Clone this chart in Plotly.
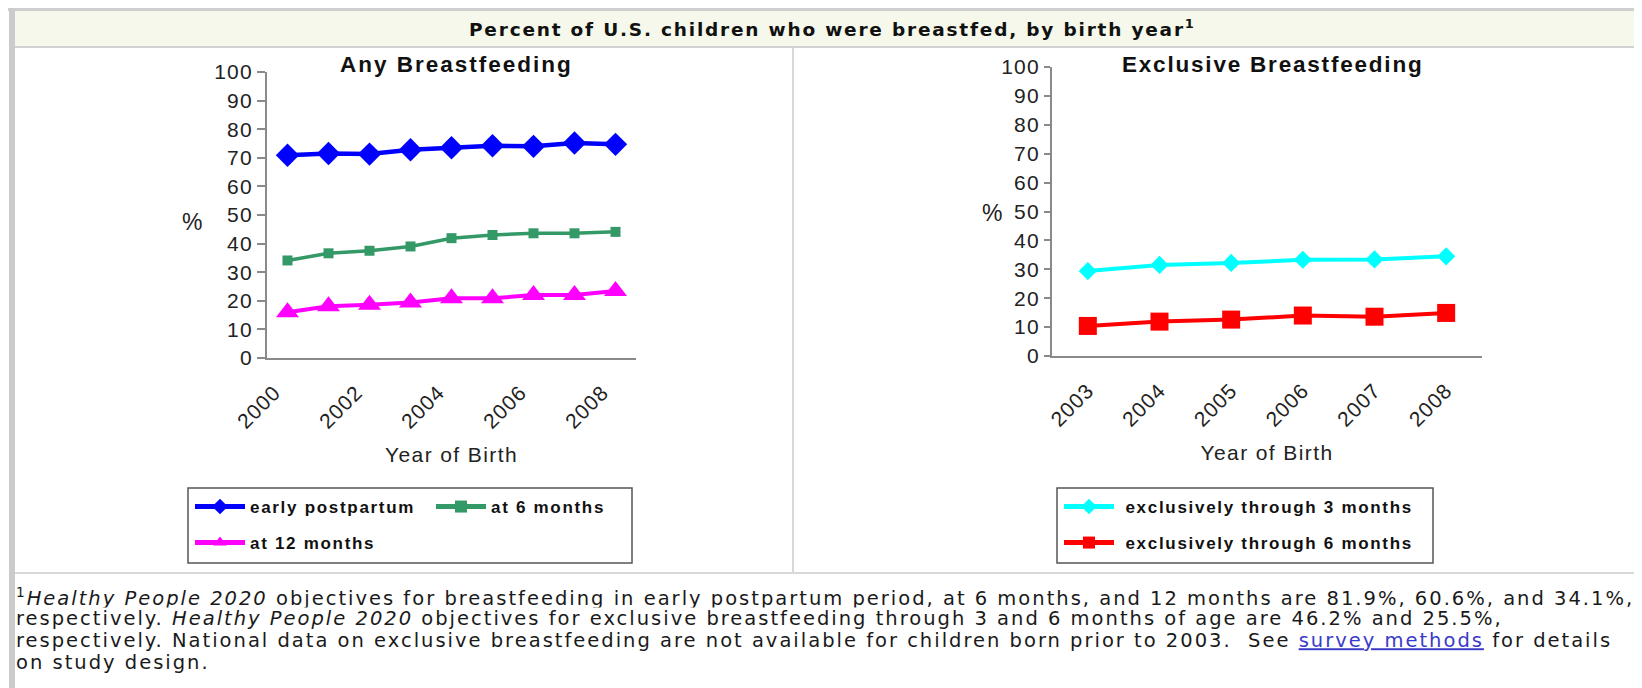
import plotly.graph_objects as go

W, H = 1642, 688
OFF = 8  # the page body margin that shifts the figure inside the window

# ---------------- data ----------------
years_any = [2000, 2001, 2002, 2003, 2004, 2005, 2006, 2007, 2008]
early_postpartum = [70.9, 71.5, 71.3, 72.8, 73.5, 74.2, 74.0, 75.2, 74.7]
at_6_months = [34.1, 36.6, 37.5, 39.0, 41.9, 43.0, 43.6, 43.6, 44.1]
at_12_months = [16.0, 18.1, 18.6, 19.4, 20.9, 20.9, 22.0, 22.0, 23.4]

years_excl = [2003, 2004, 2005, 2006, 2007, 2008]
excl_3_months = [29.4, 31.5, 32.2, 33.3, 33.4, 34.5]
excl_6_months = [10.4, 11.9, 12.6, 14.0, 13.6, 14.9]

any_ticks = [2000, 2002, 2004, 2006, 2008]
excl_ticks = [2003, 2004, 2005, 2006, 2007, 2008]
y_ticks = list(range(0, 101, 10))

series_names = ["early postpartum", "at 6 months", "at 12 months",
                "exclusively through 3 months", "exclusively through 6 months"]

main_title = "Percent of U.S. children who were breastfed, by birth year"
left_title = "Any Breastfeeding"
right_title = "Exclusive Breastfeeding"
x_title = "Year of Birth"
footnote_lines = [
    "<sup>1</sup><i>Healthy People 2020</i> objectives for breastfeeding in early postpartum period, at 6 months, and 12 months are 81.9%, 60.6%, and 34.1%,",
    "respectively. <i>Healthy People 2020</i> objectives for exclusive breastfeeding through 3 and 6 months of age are 46.2% and 25.5%,",
    "respectively. National data on exclusive breastfeeding are not available for children born prior to 2003.  See "
    "<span style=\"color:#3a3ac8;text-decoration:underline\">survey methods</span> for details",
    "on study design.",
]


def px(x):
    return (x - OFF) / W


def py(y):
    return 1 - (y - OFF) / H


def spaced(text, ls):
    return f'<span style="letter-spacing:{ls}px">{text}</span>'


CHART_FONT = "Liberation Sans, Arial, sans-serif"
PAGE_FONT = "DejaVu Sans, Verdana, sans-serif"
LEG_LS = 1.7
NBSP = "\u00a0"

fig = go.Figure()

fig.add_trace(go.Scatter(x=years_any, y=early_postpartum, name=spaced(series_names[0], LEG_LS),
                         mode="lines+markers", line=dict(color="#0000FF", width=4.5),
                         marker=dict(symbol="diamond", size=18, color="#0000FF"),
                         xaxis="x", yaxis="y", legend="legend"))
fig.add_trace(go.Scatter(x=years_any, y=at_6_months, name=spaced(series_names[1], LEG_LS),
                         mode="lines+markers", line=dict(color="#339966", width=3.5),
                         marker=dict(symbol="square", size=10, color="#339966"),
                         xaxis="x", yaxis="y", legend="legend"))
fig.add_trace(go.Scatter(x=years_any, y=at_12_months, name=spaced(series_names[2], LEG_LS),
                         mode="lines+markers", line=dict(color="#FF00FF", width=4),
                         marker=dict(symbol="triangle-up", size=20, color="#FF00FF"),
                         xaxis="x", yaxis="y", legend="legend2"))
fig.add_trace(go.Scatter(x=years_excl, y=excl_3_months,
                         name=spaced(NBSP + series_names[3], LEG_LS),
                         mode="lines+markers", line=dict(color="#00FFFF", width=4),
                         marker=dict(symbol="diamond", size=14, color="#00FFFF"),
                         xaxis="x2", yaxis="y2", legend="legend3"))
fig.add_trace(go.Scatter(x=years_excl, y=excl_6_months,
                         name=spaced(NBSP + series_names[4], LEG_LS),
                         mode="lines+markers", line=dict(color="#FF0000", width=4),
                         marker=dict(symbol="square", size=18, color="#FF0000"),
                         xaxis="x2", yaxis="y2", legend="legend4"))

tick_font = dict(family=CHART_FONT, size=21, color="#222222")
axis_common = dict(showgrid=False, zeroline=False, showline=True, linecolor="#8a8a8a",
                   linewidth=2, tickfont=tick_font, fixedrange=True, automargin=False)
xtitle_font = dict(family=CHART_FONT, size=21, color="#222222")

fig.update_layout(
    template="none",
    width=W, height=H,
    margin=dict(l=0, r=0, t=0, b=0, pad=0, autoexpand=False),
    paper_bgcolor="white", plot_bgcolor="rgba(0,0,0,0)",
    showlegend=True,
    xaxis=dict(domain=[px(267), px(636)], range=[1999.5, 2008.5], anchor="y",
               tickmode="array", tickvals=any_ticks,
               ticktext=[spaced(str(v), 1) for v in any_ticks], tickangle=-45, ticks="",
               ticklabelstandoff=12, ticklabelshift=-13,
               title=dict(text=spaced(x_title, 1.4), standoff=15, font=xtitle_font),
               **axis_common),
    yaxis=dict(domain=[py(358), py(72)], range=[0, 100], anchor="x",
               tickmode="array", tickvals=y_ticks,
               ticktext=[spaced(str(v), 1.2) for v in y_ticks],
               ticks="outside", ticklen=8,
               tickcolor="#8a8a8a", tickwidth=2, ticklabelstandoff=0, **axis_common),
    xaxis2=dict(domain=[px(1052), px(1482)], range=[2002.5, 2008.5], anchor="y2",
                tickmode="array", tickvals=excl_ticks,
                ticktext=[spaced(str(v), 1) for v in excl_ticks], tickangle=-45, ticks="",
                ticklabelstandoff=12, ticklabelshift=0,
                title=dict(text=spaced(x_title, 1.4), standoff=15, font=xtitle_font),
                **axis_common),
    yaxis2=dict(domain=[py(356), py(67)], range=[0, 100], anchor="x2",
                tickmode="array", tickvals=y_ticks,
                ticktext=[spaced(str(v), 1.2) for v in y_ticks],
                ticks="outside", ticklen=6,
                tickcolor="#8a8a8a", tickwidth=2, ticklabelstandoff=0, **axis_common),
)

legend_common = dict(orientation="h", xanchor="left", yanchor="middle",
                     bgcolor="rgba(0,0,0,0)", borderwidth=0, itemwidth=50,
                     itemsizing="constant", itemclick=False, itemdoubleclick=False,
                     font=dict(family=CHART_FONT, size=17, color="#111111", weight="bold"))
fig.update_layout(
    legend=dict(x=px(190), y=py(507), entrywidth=176, **legend_common),
    legend2=dict(x=px(190), y=py(543), **legend_common),
    legend3=dict(x=px(1059), y=py(507), **legend_common),
    legend4=dict(x=px(1059), y=py(543), **legend_common),
)

shapes = [
    # page frame
    dict(type="rect", xref="paper", yref="paper", x0=px(OFF), x1=px(W + OFF), y0=py(11), y1=py(OFF),
         fillcolor="#cfcfcf", line=dict(width=0), layer="below"),
    dict(type="rect", xref="paper", yref="paper", x0=px(9), x1=px(W + OFF), y0=py(46), y1=py(11),
         fillcolor="#f5f8ea", line=dict(width=0), layer="below"),
    dict(type="rect", xref="paper", yref="paper", x0=px(9), x1=px(W + OFF), y0=py(48), y1=py(46),
         fillcolor="#d2d2d2", line=dict(width=0), layer="below"),
    dict(type="rect", xref="paper", yref="paper", x0=px(9), x1=px(15), y0=py(H + OFF), y1=py(OFF),
         fillcolor="#cbcbcb", line=dict(width=0), layer="below"),
    dict(type="rect", xref="paper", yref="paper", x0=px(792), x1=px(794), y0=py(574), y1=py(48),
         fillcolor="#d8d8d8", line=dict(width=0), layer="below"),
    dict(type="rect", xref="paper", yref="paper", x0=px(15), x1=px(W + OFF), y0=py(574), y1=py(572),
         fillcolor="#d8d8d8", line=dict(width=0), layer="below"),
    # legend boxes
    dict(type="rect", xref="paper", yref="paper", x0=px(188), x1=px(632), y0=py(563), y1=py(488),
         fillcolor="rgba(0,0,0,0)", line=dict(color="#555555", width=1.5), layer="below"),
    dict(type="rect", xref="paper", yref="paper", x0=px(1057), x1=px(1433), y0=py(563), y1=py(488),
         fillcolor="rgba(0,0,0,0)", line=dict(color="#555555", width=1.5), layer="below"),
]
fig.update_layout(shapes=shapes)

annotations = [
    dict(text=spaced(f"<b>{main_title}<sup>1</sup></b>", 1.8), x=px(832), y=py(28),
         xref="paper", yref="paper", xanchor="center", yanchor="middle", showarrow=False,
         font=dict(family=PAGE_FONT, size=18.5, color="#111111")),
    dict(text=spaced(f"<b>{left_title}</b>", 2.0), x=px(457), y=py(64), xref="paper", yref="paper",
         xanchor="center", yanchor="middle", showarrow=False,
         font=dict(family=CHART_FONT, size=22.5, color="#111111")),
    dict(text=spaced(f"<b>{right_title}</b>", 1.8), x=px(1273), y=py(64), xref="paper", yref="paper",
         xanchor="center", yanchor="middle", showarrow=False,
         font=dict(family=CHART_FONT, size=22.5, color="#111111")),
    dict(text="%", x=px(192), y=py(222), xref="paper", yref="paper",
         xanchor="center", yanchor="middle", showarrow=False,
         font=dict(family=CHART_FONT, size=23, color="#222222")),
    dict(text="%", x=px(992), y=py(213), xref="paper", yref="paper",
         xanchor="center", yanchor="middle", showarrow=False,
         font=dict(family=CHART_FONT, size=23, color="#222222")),
]
line_centers = [597, 619, 641, 663]
for txt, yc in zip(footnote_lines, line_centers):
    annotations.append(dict(text=spaced(txt, 2.0), x=px(15), y=py(yc), xref="paper", yref="paper",
                            xanchor="left", yanchor="middle", align="left", valign="middle",
                            height=21.5, borderpad=0, showarrow=False,
                            font=dict(family=PAGE_FONT, size=19.5, color="#1a1a1a")))
fig.update_layout(annotations=annotations)

fig.write_html("out.html", config=dict(displayModeBar=False))
